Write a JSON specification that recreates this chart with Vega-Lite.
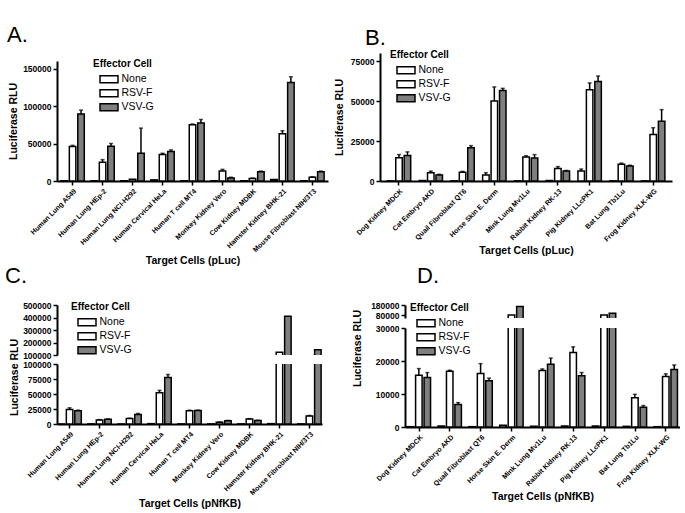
{
  "$schema": "https://vega.github.io/schema/vega-lite/v6.json",
  "padding": {"left": 5, "top": 24, "right": 0, "bottom": 0},
  "background": "white",
  "config": {
    "view": {"stroke": null},
    "font": "Liberation Sans",
    "title": {"font": "Liberation Sans", "fontSize": 22, "fontWeight": "normal", "anchor": "start", "frame": "group", "color": "black"},
    "axis": {"grid": false, "domainColor": "black", "domainWidth": 2, "tickColor": "black", "tickWidth": 1.5, "tickSize": 4,
      "labelFont": "Liberation Sans", "labelFontWeight": "bold", "labelColor": "black", "labelPadding": 2,
      "titleFont": "Liberation Sans", "titleFontWeight": "bold", "titleFontSize": 10.5, "titleColor": "black", "titlePadding": 4},
    "axisX": {"labelFontSize": 7, "labelAngle": -45, "titlePadding": 3},
    "axisY": {"labelFontSize": 8.5, "labelOverlap": false, "format": "d"},
    "legend": {"titleFont": "Liberation Sans", "titleFontSize": 10, "titleFontWeight": "bold", "titleColor": "black",
      "labelFont": "Liberation Sans", "labelFontSize": 10.5, "labelColor": "black",
      "symbolType": "M-2,-0.8H2V0.8H-2Z", "symbolSize": 81, "symbolStrokeColor": "black", "symbolStrokeWidth": 1.5,
      "rowPadding": 3, "titlePadding": 5, "labelOffset": 7, "symbolOffset": 10.5, "clipHeight": 10.5}
  },
  "datasets": {
    "A": [
      {"cell":"Human Lung A549","eff":"None","v":400},
      {"cell":"Human Lung A549","eff":"RSV-F","v":46000,"hi":47500},
      {"cell":"Human Lung A549","eff":"VSV-G","v":89500,"hi":94500},
      {"cell":"Human Lung HEp-2","eff":"None","v":300},
      {"cell":"Human Lung HEp-2","eff":"RSV-F","v":25000,"hi":28500},
      {"cell":"Human Lung HEp-2","eff":"VSV-G","v":46500,"hi":50000},
      {"cell":"Human Lung NCI-H292","eff":"None","v":200},
      {"cell":"Human Lung NCI-H292","eff":"RSV-F","v":2500},
      {"cell":"Human Lung NCI-H292","eff":"VSV-G","v":37000,"hi":70500},
      {"cell":"Human Cervical HeLa","eff":"None","v":1500},
      {"cell":"Human Cervical HeLa","eff":"RSV-F","v":35500,"hi":37000},
      {"cell":"Human Cervical HeLa","eff":"VSV-G","v":39500,"hi":41500},
      {"cell":"Human T cell MT4","eff":"None","v":300},
      {"cell":"Human T cell MT4","eff":"RSV-F","v":75000,"hi":76000},
      {"cell":"Human T cell MT4","eff":"VSV-G","v":77500,"hi":82000},
      {"cell":"Monkey Kidney Vero","eff":"None","v":300},
      {"cell":"Monkey Kidney Vero","eff":"RSV-F","v":13500,"hi":15500},
      {"cell":"Monkey Kidney Vero","eff":"VSV-G","v":4000,"hi":5000},
      {"cell":"Cow Kidney MDBK","eff":"None","v":300},
      {"cell":"Cow Kidney MDBK","eff":"RSV-F","v":3500,"hi":4000},
      {"cell":"Cow Kidney MDBK","eff":"VSV-G","v":12500,"hi":13200},
      {"cell":"Hamster Kidney BHK-21","eff":"None","v":2000},
      {"cell":"Hamster Kidney BHK-21","eff":"RSV-F","v":63000,"hi":67000},
      {"cell":"Hamster Kidney BHK-21","eff":"VSV-G","v":131500,"hi":139000},
      {"cell":"Mouse Fibroblast NIH/3T3","eff":"None","v":300},
      {"cell":"Mouse Fibroblast NIH/3T3","eff":"RSV-F","v":5000,"hi":5700},
      {"cell":"Mouse Fibroblast NIH/3T3","eff":"VSV-G","v":12500,"hi":13200}
    ],
    "B": [
      {"cell":"Dog Kidney MDCK","eff":"None","v":100},
      {"cell":"Dog Kidney MDCK","eff":"RSV-F","v":14500,"hi":16500},
      {"cell":"Dog Kidney MDCK","eff":"VSV-G","v":16000,"hi":18200},
      {"cell":"Cat Embryo AKD","eff":"None","v":300},
      {"cell":"Cat Embryo AKD","eff":"RSV-F","v":5200,"hi":6200},
      {"cell":"Cat Embryo AKD","eff":"VSV-G","v":3700,"hi":4200},
      {"cell":"Quail Fibroblast QT6","eff":"None","v":100},
      {"cell":"Quail Fibroblast QT6","eff":"RSV-F","v":5500,"hi":6000},
      {"cell":"Quail Fibroblast QT6","eff":"VSV-G","v":20800,"hi":22100},
      {"cell":"Horse Skin E. Derm","eff":"None","v":3800,"hi":5200},
      {"cell":"Horse Skin E. Derm","eff":"RSV-F","v":50000,"hi":58800},
      {"cell":"Horse Skin E. Derm","eff":"VSV-G","v":56500,"hi":57900},
      {"cell":"Mink Lung Mv1Lu","eff":"None","v":100},
      {"cell":"Mink Lung Mv1Lu","eff":"RSV-F","v":15000,"hi":15800},
      {"cell":"Mink Lung Mv1Lu","eff":"VSV-G","v":14300,"hi":16500},
      {"cell":"Rabbit Kidney RK-13","eff":"None","v":300},
      {"cell":"Rabbit Kidney RK-13","eff":"RSV-F","v":7800,"hi":9000},
      {"cell":"Rabbit Kidney RK-13","eff":"VSV-G","v":6200,"hi":6600},
      {"cell":"Pig Kidney LLcPK1","eff":"None","v":6300,"hi":7500},
      {"cell":"Pig Kidney LLcPK1","eff":"RSV-F","v":57000,"hi":61300},
      {"cell":"Pig Kidney LLcPK1","eff":"VSV-G","v":62200,"hi":65600},
      {"cell":"Bat Lung Tb1Lu","eff":"None","v":100},
      {"cell":"Bat Lung Tb1Lu","eff":"RSV-F","v":10500,"hi":11200},
      {"cell":"Bat Lung Tb1Lu","eff":"VSV-G","v":9400,"hi":9900},
      {"cell":"Frog Kidney XLK-WG","eff":"None","v":100},
      {"cell":"Frog Kidney XLK-WG","eff":"RSV-F","v":29000,"hi":33300},
      {"cell":"Frog Kidney XLK-WG","eff":"VSV-G","v":37400,"hi":44600}
    ],
    "C": [
      {"cell":"Human Lung A549","eff":"None","v":200},
      {"cell":"Human Lung A549","eff":"RSV-F","v":24000,"hi":27000},
      {"cell":"Human Lung A549","eff":"VSV-G","v":22000,"hi":23000},
      {"cell":"Human Lung HEp-2","eff":"None","v":200},
      {"cell":"Human Lung HEp-2","eff":"RSV-F","v":6800,"hi":7300},
      {"cell":"Human Lung HEp-2","eff":"VSV-G","v":7800,"hi":8300},
      {"cell":"Human Lung NCI-H292","eff":"None","v":200},
      {"cell":"Human Lung NCI-H292","eff":"RSV-F","v":9000,"hi":9600},
      {"cell":"Human Lung NCI-H292","eff":"VSV-G","v":15800,"hi":17500},
      {"cell":"Human Cervical HeLa","eff":"None","v":600},
      {"cell":"Human Cervical HeLa","eff":"RSV-F","v":52000,"hi":56000},
      {"cell":"Human Cervical HeLa","eff":"VSV-G","v":77500,"hi":82500},
      {"cell":"Human T cell MT4","eff":"None","v":200},
      {"cell":"Human T cell MT4","eff":"RSV-F","v":22000,"hi":23000},
      {"cell":"Human T cell MT4","eff":"VSV-G","v":22300,"hi":23000},
      {"cell":"Monkey Kidney Vero","eff":"None","v":200},
      {"cell":"Monkey Kidney Vero","eff":"RSV-F","v":3000,"hi":3500},
      {"cell":"Monkey Kidney Vero","eff":"VSV-G","v":5500,"hi":6000},
      {"cell":"Cow Kidney MDBK","eff":"None","v":200},
      {"cell":"Cow Kidney MDBK","eff":"RSV-F","v":8300,"hi":8900},
      {"cell":"Cow Kidney MDBK","eff":"VSV-G","v":5700,"hi":6200},
      {"cell":"Hamster Kidney BHK-21","eff":"None","v":600},
      {"cell":"Hamster Kidney BHK-21","eff":"RSV-F","v":123000},
      {"cell":"Hamster Kidney BHK-21","eff":"VSV-G","v":410000},
      {"cell":"Mouse Fibroblast NIH/3T3","eff":"None","v":200},
      {"cell":"Mouse Fibroblast NIH/3T3","eff":"RSV-F","v":13500,"hi":14200},
      {"cell":"Mouse Fibroblast NIH/3T3","eff":"VSV-G","v":143000}
    ],
    "D": [
      {"cell":"Dog Kidney MDCK","eff":"None","v":100},
      {"cell":"Dog Kidney MDCK","eff":"RSV-F","v":15700,"hi":17700},
      {"cell":"Dog Kidney MDCK","eff":"VSV-G","v":15000,"hi":16500},
      {"cell":"Cat Embryo AKD","eff":"None","v":300},
      {"cell":"Cat Embryo AKD","eff":"RSV-F","v":16900,"hi":17200},
      {"cell":"Cat Embryo AKD","eff":"VSV-G","v":6800,"hi":7400},
      {"cell":"Quail Fibroblast QT6","eff":"None","v":100},
      {"cell":"Quail Fibroblast QT6","eff":"RSV-F","v":16200,"hi":19200},
      {"cell":"Quail Fibroblast QT6","eff":"VSV-G","v":14000,"hi":14800},
      {"cell":"Horse Skin E. Derm","eff":"None","v":500},
      {"cell":"Horse Skin E. Derm","eff":"RSV-F","v":81000},
      {"cell":"Horse Skin E. Derm","eff":"VSV-G","v":164000},
      {"cell":"Mink Lung Mv1Lu","eff":"None","v":200},
      {"cell":"Mink Lung Mv1Lu","eff":"RSV-F","v":17100,"hi":17600},
      {"cell":"Mink Lung Mv1Lu","eff":"VSV-G","v":19000,"hi":20900},
      {"cell":"Rabbit Kidney RK-13","eff":"None","v":300},
      {"cell":"Rabbit Kidney RK-13","eff":"RSV-F","v":22600,"hi":24300},
      {"cell":"Rabbit Kidney RK-13","eff":"VSV-G","v":15500,"hi":16500},
      {"cell":"Pig Kidney LLcPK1","eff":"None","v":300},
      {"cell":"Pig Kidney LLcPK1","eff":"RSV-F","v":79000},
      {"cell":"Pig Kidney LLcPK1","eff":"VSV-G","v":97000},
      {"cell":"Bat Lung Tb1Lu","eff":"None","v":200},
      {"cell":"Bat Lung Tb1Lu","eff":"RSV-F","v":8900,"hi":9900},
      {"cell":"Bat Lung Tb1Lu","eff":"VSV-G","v":6000,"hi":6500},
      {"cell":"Frog Kidney XLK-WG","eff":"None","v":100},
      {"cell":"Frog Kidney XLK-WG","eff":"RSV-F","v":15300,"hi":16100},
      {"cell":"Frog Kidney XLK-WG","eff":"VSV-G","v":17400,"hi":18800}
    ]
  },
  "resolve": {"scale": {"fill": "independent"}, "legend": {"fill": "independent"}},
  "columns": 1,
  "align": "none",
  "spacing": -2,
  "concat": [
    {
      "spacing": 5,
      "resolve": {"scale": {"fill": "independent"}, "legend": {"fill": "independent"}},
      "hconcat": [
        {
          "data": {"name": "A"},
          "width": 271, "height": 128,
          "title": {"text": "A.", "dx": -50, "offset": 6},
          "encoding": {
            "x": {"field": "cell", "type": "nominal", "sort": ["Human Lung A549","Human Lung HEp-2","Human Lung NCI-H292","Human Cervical HeLa","Human T cell MT4","Monkey Kidney Vero","Cow Kidney MDBK","Hamster Kidney BHK-21","Mouse Fibroblast NIH/3T3"], "scale": {"paddingInner": 0.22, "paddingOuter": 0.13}, "axis": {"title": "Target Cells (pLuc)"}},
            "xOffset": {"field": "eff", "type": "nominal", "sort": ["None","RSV-F","VSV-G"], "scale": {"paddingInner": 0.23}}
          },
          "layer": [
            {
              "mark": {"type": "bar", "stroke": "black", "strokeWidth": 1.5},
              "encoding": {
                "y": {"field": "v", "type": "quantitative", "scale": {"domain": [0, 150000], "range": [128, 8]}, "axis": {"values": [0, 50000, 100000, 150000], "title": "Luciferase RLU", "labelOverlap": false, "titleX": -39}},
                "fill": {"field": "eff", "type": "nominal", "scale": {"domain": ["None","RSV-F","VSV-G"], "range": ["#ffffff","#ffffff","#7f7f7f"]}, "legend": {"title": "Effector Cell", "orient": "none", "legendX": 36, "legendY": 6, "symbolType": "M-2,-0.8H2V0.8H-2Z", "symbolSize": 81}}
              }
            },
            {
              "transform": [{"filter": "isValid(datum.hi)"}],
              "mark": {"type": "rule", "stroke": "black", "strokeWidth": 1.5},
              "encoding": {"y": {"field": "v", "type": "quantitative", "axis": {"values": [0, 50000, 100000, 150000], "title": "Luciferase RLU", "labelOverlap": false, "titleX": -39}}, "y2": {"field": "hi"}}
            },
            {
              "transform": [{"filter": "isValid(datum.hi)"}],
              "mark": {"type": "tick", "color": "black", "size": 4, "thickness": 1.5, "orient": "horizontal"},
              "encoding": {"y": {"field": "hi", "type": "quantitative", "axis": {"values": [0, 50000, 100000, 150000], "title": "Luciferase RLU", "labelOverlap": false, "titleX": -39}}}
            }
          ]
        },
        {
          "data": {"name": "B"},
          "width": 292, "height": 128,
          "title": {"text": "B.", "dx": -15, "offset": 0},
          "encoding": {
            "x": {"field": "cell", "type": "nominal", "sort": ["Dog Kidney MDCK","Cat Embryo AKD","Quail Fibroblast QT6","Horse Skin E. Derm","Mink Lung Mv1Lu","Rabbit Kidney RK-13","Pig Kidney LLcPK1","Bat Lung Tb1Lu","Frog Kidney XLK-WG"], "scale": {"paddingInner": 0.27, "paddingOuter": 0.23}, "axis": {"title": "Target Cells (pLuc)"}},
            "xOffset": {"field": "eff", "type": "nominal", "sort": ["None","RSV-F","VSV-G"], "scale": {"paddingInner": 0.23}}
          },
          "layer": [
            {
              "mark": {"type": "bar", "stroke": "black", "strokeWidth": 1.5},
              "encoding": {
                "y": {"field": "v", "type": "quantitative", "scale": {"domain": [0, 75000]}, "axis": {"values": [0, 25000, 50000, 75000], "title": "Luciferase RLU", "labelOverlap": false, "titleX": -36}},
                "fill": {"field": "eff", "type": "nominal", "scale": {"domain": ["None","RSV-F","VSV-G"], "range": ["#ffffff","#ffffff","#7f7f7f"]}, "legend": {"title": "Effector Cell", "orient": "none", "legendX": 10, "legendY": -3, "symbolType": "M-2,-0.8H2V0.8H-2Z", "symbolSize": 81}}
              }
            },
            {
              "transform": [{"filter": "isValid(datum.hi)"}],
              "mark": {"type": "rule", "stroke": "black", "strokeWidth": 1.5},
              "encoding": {"y": {"field": "v", "type": "quantitative", "axis": {"values": [0, 25000, 50000, 75000], "title": "Luciferase RLU", "labelOverlap": false, "titleX": -36}}, "y2": {"field": "hi"}}
            },
            {
              "transform": [{"filter": "isValid(datum.hi)"}],
              "mark": {"type": "tick", "color": "black", "size": 4, "thickness": 1.5, "orient": "horizontal"},
              "encoding": {"y": {"field": "hi", "type": "quantitative", "axis": {"values": [0, 25000, 50000, 75000], "title": "Luciferase RLU", "labelOverlap": false, "titleX": -36}}}
            }
          ]
        }
      ]
    },
    {
      "spacing": 29,
      "resolve": {"scale": {"fill": "independent"}, "legend": {"fill": "independent"}},
      "hconcat": [
        {
          "bounds": "flush",
          "spacing": 9,
          "resolve": {"scale": {"fill": "independent"}, "legend": {"fill": "independent"}},
          "vconcat": [
            {
              "data": {"name": "C"},
              "width": 265, "height": 50,
              "title": {"text": "C.", "dx": -52, "offset": 13},
              "mark": {"type": "bar", "stroke": "black", "strokeWidth": 1.5, "clip": true},
              "encoding": {
                "x": {"field": "cell", "type": "nominal", "sort": ["Human Lung A549","Human Lung HEp-2","Human Lung NCI-H292","Human Cervical HeLa","Human T cell MT4","Monkey Kidney Vero","Cow Kidney MDBK","Hamster Kidney BHK-21","Mouse Fibroblast NIH/3T3"], "scale": {"paddingInner": 0.22, "paddingOuter": 0.03}, "axis": null},
                "xOffset": {"field": "eff", "type": "nominal", "sort": ["None","RSV-F","VSV-G"], "scale": {"paddingInner": 0.23}},
                "y": {"field": "v", "type": "quantitative", "scale": {"domain": [100000, 500000], "zero": false}, "axis": {"values": [100000, 200000, 300000, 400000, 500000], "title": null, "labelOverlap": false}},
                "fill": {"field": "eff", "type": "nominal", "scale": {"domain": ["None","RSV-F","VSV-G"], "range": ["#ffffff","#ffffff","#7f7f7f"]}, "legend": {"title": "Effector Cell", "orient": "none", "legendX": 14, "legendY": -3, "symbolType": "M-2,-0.8H2V0.8H-2Z", "symbolSize": 81}}
              }
            },
            {
              "data": {"name": "C"},
              "width": 265, "height": 60,
              "encoding": {
                "x": {"field": "cell", "type": "nominal", "sort": ["Human Lung A549","Human Lung HEp-2","Human Lung NCI-H292","Human Cervical HeLa","Human T cell MT4","Monkey Kidney Vero","Cow Kidney MDBK","Hamster Kidney BHK-21","Mouse Fibroblast NIH/3T3"], "scale": {"paddingInner": 0.22, "paddingOuter": 0.03}, "axis": {"title": "Target Cells (pNfKB)"}},
                "xOffset": {"field": "eff", "type": "nominal", "sort": ["None","RSV-F","VSV-G"], "scale": {"paddingInner": 0.23}}
              },
              "layer": [
                {
                  "mark": {"type": "bar", "stroke": "black", "strokeWidth": 1.5, "clip": true},
                  "encoding": {
                    "y": {"field": "v", "type": "quantitative", "scale": {"domain": [0, 100000]}, "axis": {"values": [0, 25000, 50000, 75000, 100000], "title": "Luciferase RLU", "titleY": 13, "titleX": -38, "labelOverlap": false}},
                    "fill": {"field": "eff", "type": "nominal", "scale": {"domain": ["None","RSV-F","VSV-G"], "range": ["#ffffff","#ffffff","#7f7f7f"]}, "legend": null}
                  }
                },
                {
                  "transform": [{"filter": "isValid(datum.hi)"}],
                  "mark": {"type": "rule", "stroke": "black", "strokeWidth": 1.5, "clip": true},
                  "encoding": {"y": {"field": "v", "type": "quantitative", "axis": {"values": [0, 25000, 50000, 75000, 100000], "title": "Luciferase RLU", "titleY": 13, "titleX": -38, "labelOverlap": false}}, "y2": {"field": "hi"}}
                },
                {
                  "transform": [{"filter": "isValid(datum.hi)"}],
                  "mark": {"type": "tick", "color": "black", "size": 4, "thickness": 1.5, "orient": "horizontal", "clip": true},
                  "encoding": {"y": {"field": "hi", "type": "quantitative", "axis": {"values": [0, 25000, 50000, 75000, 100000], "title": "Luciferase RLU", "titleY": 13, "titleX": -38, "labelOverlap": false}}}
                }
              ]
            }
          ]
        },
        {
          "bounds": "flush",
          "spacing": 10,
          "resolve": {"scale": {"fill": "independent"}, "legend": {"fill": "independent"}},
          "vconcat": [
            {
              "data": {"name": "D"},
              "width": 275, "height": 13,
              "title": {"text": "D.", "dx": 12, "offset": 13},
              "mark": {"type": "bar", "stroke": "black", "strokeWidth": 1.5, "clip": true},
              "encoding": {
                "x": {"field": "cell", "type": "nominal", "sort": ["Dog Kidney MDCK","Cat Embryo AKD","Quail Fibroblast QT6","Horse Skin E. Derm","Mink Lung Mv1Lu","Rabbit Kidney RK-13","Pig Kidney LLcPK1","Bat Lung Tb1Lu","Frog Kidney XLK-WG"], "scale": {"paddingInner": 0.23, "paddingOuter": 0.07}, "axis": null},
                "xOffset": {"field": "eff", "type": "nominal", "sort": ["None","RSV-F","VSV-G"], "scale": {"paddingInner": 0.23}},
                "y": {"field": "v", "type": "quantitative", "scale": {"domain": [50000, 180000], "zero": false}, "axis": {"values": [80000, 180000], "title": null, "labelOverlap": false}},
                "fill": {"field": "eff", "type": "nominal", "scale": {"domain": ["None","RSV-F","VSV-G"], "range": ["#ffffff","#ffffff","#7f7f7f"]}, "legend": {"title": "Effector Cell", "orient": "none", "legendX": 5, "legendY": -2, "symbolType": "M-2,-0.8H2V0.8H-2Z", "symbolSize": 81}}
              }
            },
            {
              "data": {"name": "D"},
              "width": 275, "height": 99,
              "encoding": {
                "x": {"field": "cell", "type": "nominal", "sort": ["Dog Kidney MDCK","Cat Embryo AKD","Quail Fibroblast QT6","Horse Skin E. Derm","Mink Lung Mv1Lu","Rabbit Kidney RK-13","Pig Kidney LLcPK1","Bat Lung Tb1Lu","Frog Kidney XLK-WG"], "scale": {"paddingInner": 0.23, "paddingOuter": 0.07}, "axis": {"title": "Target Cells (pNfKB)"}},
                "xOffset": {"field": "eff", "type": "nominal", "sort": ["None","RSV-F","VSV-G"], "scale": {"paddingInner": 0.23}}
              },
              "layer": [
                {
                  "mark": {"type": "bar", "stroke": "black", "strokeWidth": 1.5, "clip": true},
                  "encoding": {
                    "y": {"field": "v", "type": "quantitative", "scale": {"domain": [0, 30000]}, "axis": {"values": [0, 10000, 20000, 30000], "title": "Luciferase RLU", "titleY": 20, "titleX": -43, "labelOverlap": false}},
                    "fill": {"field": "eff", "type": "nominal", "scale": {"domain": ["None","RSV-F","VSV-G"], "range": ["#ffffff","#ffffff","#7f7f7f"]}, "legend": null}
                  }
                },
                {
                  "transform": [{"filter": "isValid(datum.hi)"}],
                  "mark": {"type": "rule", "stroke": "black", "strokeWidth": 1.5, "clip": true},
                  "encoding": {"y": {"field": "v", "type": "quantitative", "axis": {"values": [0, 10000, 20000, 30000], "title": "Luciferase RLU", "titleY": 20, "titleX": -43, "labelOverlap": false}}, "y2": {"field": "hi"}}
                },
                {
                  "transform": [{"filter": "isValid(datum.hi)"}],
                  "mark": {"type": "tick", "color": "black", "size": 4, "thickness": 1.5, "orient": "horizontal", "clip": true},
                  "encoding": {"y": {"field": "hi", "type": "quantitative", "axis": {"values": [0, 10000, 20000, 30000], "title": "Luciferase RLU", "titleY": 20, "titleX": -43, "labelOverlap": false}}}
                }
              ]
            }
          ]
        }
      ]
    }
  ]
}
